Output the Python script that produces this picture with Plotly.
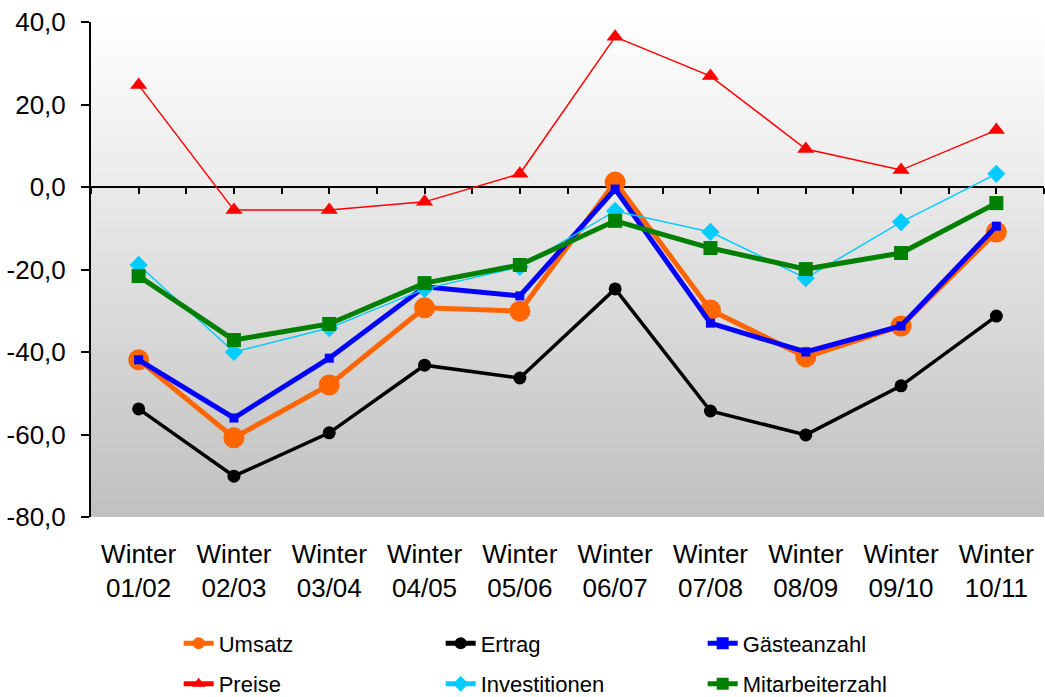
import plotly.graph_objects as go

categories = ["Winter<br>01/02", "Winter<br>02/03", "Winter<br>03/04", "Winter<br>04/05", "Winter<br>05/06",
              "Winter<br>06/07", "Winter<br>07/08", "Winter<br>08/09", "Winter<br>09/10", "Winter<br>10/11"]

umsatz = [-41.9, -60.8, -48.0, -29.3, -30.1, 1.2, -29.8, -41.2, -33.7, -10.9]
ertrag = [-53.8, -70.1, -59.6, -43.2, -46.3, -24.7, -54.3, -60.1, -48.2, -31.3]
gaeste = [-41.9, -56.0, -41.5, -24.2, -26.4, -0.5, -33.0, -40.0, -33.7, -9.5]
preise = [24.7, -5.6, -5.6, -3.6, 3.2, 36.4, 26.9, 9.2, 4.1, 13.8]
investitionen = [-18.9, -40.0, -34.2, -24.7, -19.4, -5.8, -10.9, -22.1, -8.5, 3.2]
mitarbeiter = [-21.6, -37.1, -33.2, -23.3, -18.9, -8.2, -14.8, -19.9, -16.0, -3.9]

y_ticks = [-80, -60, -40, -20, 0, 20, 40]
y_ticktext = ["-80,0", "-60,0", "-40,0", "-20,0", "0,0", "20,0", "40,0"]

Y_MIN, Y_MAX = -80, 40
FONT = "Liberation Sans, Arial, sans-serif"

# name, values, colour, line width, marker, marker size, legend row
series = [
    ("Umsatz", umsatz, "#FF6600", 5, "circle", 21, "legend"),
    ("Ertrag", ertrag, "#000000", 3.5, "circle", 13, "legend"),
    ("Gästeanzahl", gaeste, "#0000FF", 5, "square", 9, "legend"),
    ("Preise", preise, "#FF0000", 1.5, "triangle-up", 15, "legend2"),
    ("Investitionen", investitionen, "#00CCFF", 1.5, "diamond", 14, "legend2"),
    ("Mitarbeiterzahl", mitarbeiter, "#008000", 5, "square", 14, "legend2"),
]

fig = go.Figure()
for name, values, color, width, symbol, size, legend in series:
    fig.add_trace(
        go.Scatter(
            x=categories,
            y=values,
            name=name,
            legend=legend,
            mode="lines+markers",
            line=dict(color=color, width=width),
            marker=dict(color=color, symbol=symbol, size=size, line=dict(width=0)),
            cliponaxis=False,
        )
    )

# vertical grey gradient behind the plot area
shapes = []
bands = 60
for i in range(bands):
    t = i / bands
    g = round(192 + (255 - 192) * (t + 0.5 / bands))
    shapes.append(dict(type="rect", xref="paper", yref="paper", x0=0, x1=1, y0=t, y1=t + 1 / bands + 0.002,
                       fillcolor=f"rgb({g},{g},{g})", line=dict(width=0), layer="below"))

zero_pos = (0 - Y_MIN) / (Y_MAX - Y_MIN)

legend_style = dict(
    orientation="h",
    x=0.092,
    xanchor="left",
    yanchor="top",
    entrywidth=217,
    entrywidthmode="pixels",
    itemsizing="constant",
    font=dict(size=22, family=FONT),
    bgcolor="rgba(0,0,0,0)",
)

fig.update_layout(
    width=1045,
    height=697,
    margin=dict(l=91, r=1, t=22, b=180, autoexpand=False),
    paper_bgcolor="white",
    plot_bgcolor="rgba(0,0,0,0)",
    font=dict(family=FONT, color="black", size=26),
    shapes=shapes,
    showlegend=True,
    legend=dict(legend_style, y=-0.213),
    legend2=dict(legend_style, y=-0.295),
    xaxis=dict(
        type="category",
        range=[-0.5, 9.5],
        showline=False,
        showgrid=False,
        zeroline=False,
        ticks="outside",
        ticklen=14,
        tickcolor="rgba(0,0,0,0)",
        tickfont=dict(size=26),
        automargin=False,
    ),
    xaxis2=dict(
        overlaying="x",
        anchor="free",
        position=zero_pos,
        range=[-0.5, 9.5],
        tickmode="linear",
        tick0=-0.5,
        dtick=0.5,
        showline=True,
        linecolor="black",
        linewidth=2,
        ticks="outside",
        ticklen=6,
        tickwidth=2,
        tickcolor="black",
        showticklabels=False,
        showgrid=False,
        zeroline=False,
        layer="below traces",
    ),
    yaxis=dict(
        range=[Y_MIN, Y_MAX],
        tickvals=y_ticks,
        ticktext=y_ticktext,
        showline=True,
        linecolor="black",
        linewidth=2,
        ticks="outside",
        ticklen=8,
        tickwidth=2,
        tickcolor="black",
        ticklabelstandoff=10,
        showgrid=False,
        zeroline=False,
        tickfont=dict(size=26),
        automargin=False,
    ),
)

# invisible helper trace so the zero-line axis is drawn
fig.add_trace(go.Scatter(x=[-0.5, 9.5], y=[0, 0], xaxis="x2", mode="lines", line=dict(width=0),
                         showlegend=False, hoverinfo="skip"))

fig.write_html("out.html", config={"displayModeBar": False},
               post_script="document.body.style.margin='0';")
